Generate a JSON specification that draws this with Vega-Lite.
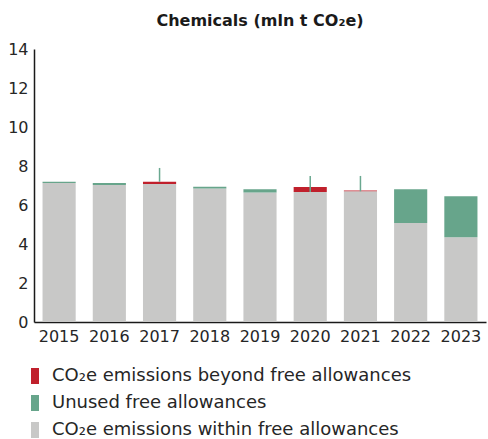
{
  "$schema": "https://vega.github.io/schema/vega-lite/v6.json",
  "autosize": "none",
  "width": 452,
  "height": 273,
  "padding": {"left": 34, "top": 49, "right": 2, "bottom": 117},
  "background": "white",
  "title": {
    "text": "Chemicals (mln t CO₂e)",
    "font": "DejaVu Sans",
    "fontSize": 16,
    "fontWeight": "bold",
    "color": "#1a1a1a",
    "anchor": "middle",
    "offset": 12
  },
  "config": {
    "view": {"stroke": null},
    "font": "DejaVu Sans",
    "axis": {"labelOverlap": false},
    "axisY": {
      "title": null,
      "values": [0, 2, 4, 6, 8, 10, 12, 14],
      "grid": false,
      "ticks": false,
      "labelOverlap": false,
      "labelFontSize": 16,
      "labelColor": "#262626",
      "labelPadding": 6,
      "domainColor": "#1a1a1a",
      "domainWidth": 1.5
    }
  },
  "datasets": {
    "bars": [
      {"year": "2015", "category": "CO₂e emissions within free allowances", "layer": 1, "value": 7.13},
      {"year": "2015", "category": "Unused free allowances", "layer": 2, "value": 0.06},
      {"year": "2016", "category": "CO₂e emissions within free allowances", "layer": 1, "value": 7.02},
      {"year": "2016", "category": "Unused free allowances", "layer": 2, "value": 0.11},
      {"year": "2017", "category": "CO₂e emissions within free allowances", "layer": 1, "value": 7.08},
      {"year": "2017", "category": "CO₂e emissions beyond free allowances", "layer": 3, "value": 0.11},
      {"year": "2018", "category": "CO₂e emissions within free allowances", "layer": 1, "value": 6.84},
      {"year": "2018", "category": "Unused free allowances", "layer": 2, "value": 0.1},
      {"year": "2019", "category": "CO₂e emissions within free allowances", "layer": 1, "value": 6.64},
      {"year": "2019", "category": "Unused free allowances", "layer": 2, "value": 0.17},
      {"year": "2020", "category": "CO₂e emissions within free allowances", "layer": 1, "value": 6.67},
      {"year": "2020", "category": "CO₂e emissions beyond free allowances", "layer": 3, "value": 0.25},
      {"year": "2021", "category": "CO₂e emissions within free allowances", "layer": 1, "value": 6.7},
      {"year": "2021", "category": "CO₂e emissions beyond free allowances", "layer": 3, "value": 0.04},
      {"year": "2022", "category": "CO₂e emissions within free allowances", "layer": 1, "value": 5.08},
      {"year": "2022", "category": "Unused free allowances", "layer": 2, "value": 1.73},
      {"year": "2023", "category": "CO₂e emissions within free allowances", "layer": 1, "value": 4.34},
      {"year": "2023", "category": "Unused free allowances", "layer": 2, "value": 2.11}
    ],
    "lines": [
      {"year": "2017", "low": 7.19, "high": 7.9},
      {"year": "2020", "low": 6.67, "high": 7.49},
      {"year": "2021", "low": 6.7, "high": 7.49}
    ]
  },
  "encoding": {
    "x": {
      "field": "year",
      "type": "nominal",
      "scale": {"paddingInner": 0.34, "paddingOuter": 0.17},
      "axis": {
        "title": null,
        "labelAngle": 0,
        "labelFontSize": 16,
        "labelColor": "#262626",
        "labelPadding": 6,
        "labelOverlap": false,
        "ticks": false,
        "domainColor": "#1a1a1a",
        "domainWidth": 1.5
      }
    }
  },
  "layer": [
    {
      "data": {"name": "bars"},
      "mark": {"type": "bar"},
      "encoding": {
        "y": {
          "field": "value",
          "type": "quantitative",
          "stack": "zero",
          "scale": {"domain": [0, 14], "nice": false},
          "axis": {"values": [0, 2, 4, 6, 8, 10, 12, 14], "labelOverlap": false}
        },
        "color": {
          "field": "category",
          "type": "nominal",
          "scale": {
            "domain": ["CO₂e emissions beyond free allowances", "Unused free allowances", "CO₂e emissions within free allowances"],
            "range": ["#c0202c", "#67a58b", "#c8c8c7"]
          },
          "legend": {
            "title": null,
            "orient": "none",
            "legendX": -8,
            "legendY": 318,
            "direction": "vertical",
            "symbolType": "M-0.5,-1h1v2h-1z",
            "symbolSize": 256,
            "symbolStrokeWidth": 0,
            "symbolOpacity": 1,
            "labelFontSize": 18,
            "labelColor": "#262626",
            "labelOffset": 8,
            "labelLimit": 500,
            "rowPadding": 9
          }
        },
        "order": {"field": "layer", "type": "quantitative"}
      }
    },
    {
      "data": {"name": "lines"},
      "mark": {"type": "rule", "color": "#6aa890", "strokeWidth": 1.5},
      "encoding": {
        "y": {"field": "low", "type": "quantitative", "axis": {"values": [0, 2, 4, 6, 8, 10, 12, 14], "labelOverlap": false}},
        "y2": {"field": "high"}
      }
    }
  ]
}
